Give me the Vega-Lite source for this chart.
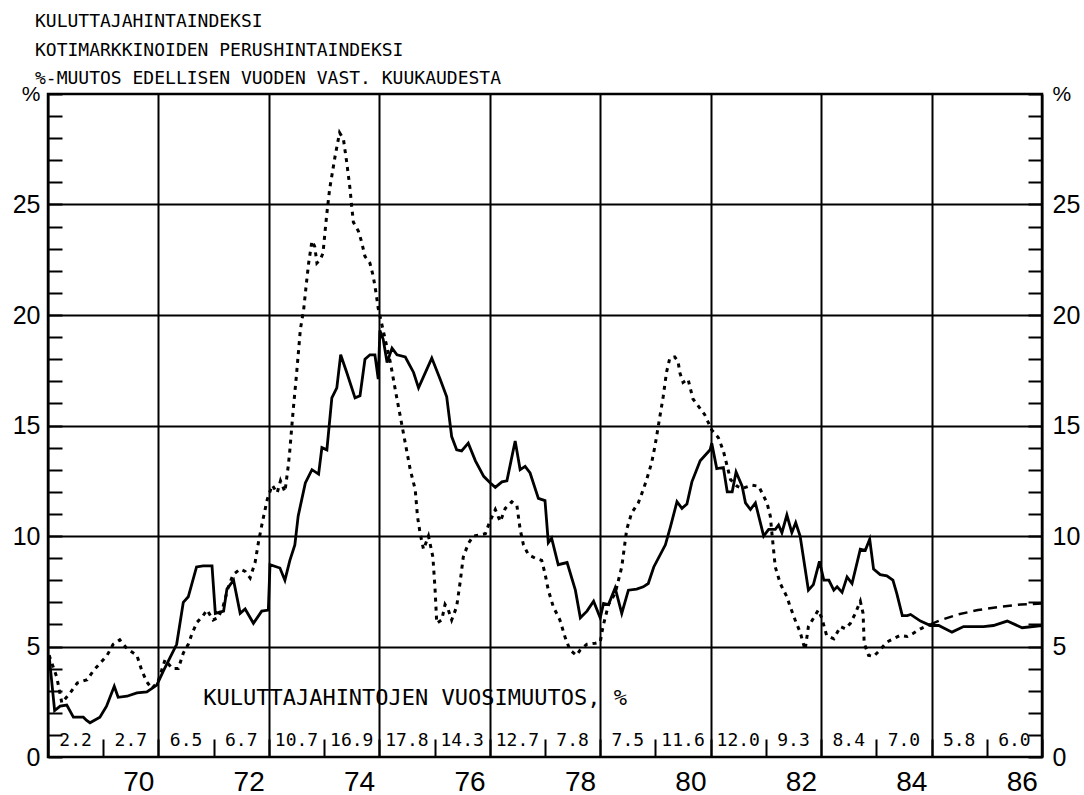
{
  "$schema": "https://vega.github.io/schema/vega-lite/v6.json",
  "width": 994,
  "height": 663,
  "autosize": {"type": "none"},
  "padding": {"left": 48, "top": 94, "right": 42, "bottom": 38},
  "background": "white",
  "config": {
    "view": {"stroke": "black", "strokeWidth": 2.5},
    "axis": {"labelColor": "black", "tickColor": "black", "gridColor": "black", "tickOpacity": 1}
  },
  "title": {
    "text": ["KULUTTAJAHINTAINDEKSI", "KOTIMARKKINOIDEN PERUSHINTAINDEKSI", "%-MUUTOS EDELLISEN VUODEN VAST. KUUKAUDESTA"],
    "anchor": "start",
    "frame": "group",
    "font": "DejaVu Sans Mono",
    "fontSize": 18,
    "fontWeight": "normal",
    "color": "black",
    "lineHeight": 28.5,
    "offset": 6,
    "dx": -13,
    "dy": 11
  },
  "datasets": {
    "cpi": [
      {"year": 1969.02, "value": 4.6}, {"year": 1969.12, "value": 2.1}, {"year": 1969.22, "value": 2.3}, {"year": 1969.34, "value": 2.35},
      {"year": 1969.46, "value": 1.8}, {"year": 1969.64, "value": 1.8}, {"year": 1969.70, "value": 1.65}, {"year": 1969.76, "value": 1.55},
      {"year": 1969.94, "value": 1.8}, {"year": 1970.06, "value": 2.3}, {"year": 1970.20, "value": 3.2}, {"year": 1970.27, "value": 2.7},
      {"year": 1970.43, "value": 2.75}, {"year": 1970.61, "value": 2.9}, {"year": 1970.79, "value": 2.95}, {"year": 1970.97, "value": 3.25},
      {"year": 1971.09, "value": 3.9}, {"year": 1971.21, "value": 4.5}, {"year": 1971.33, "value": 5.1}, {"year": 1971.45, "value": 7.0},
      {"year": 1971.54, "value": 7.25}, {"year": 1971.69, "value": 8.6}, {"year": 1971.81, "value": 8.65}, {"year": 1971.97, "value": 8.65},
      {"year": 1972.03, "value": 6.5}, {"year": 1972.18, "value": 6.6}, {"year": 1972.24, "value": 7.6}, {"year": 1972.36, "value": 8.0},
      {"year": 1972.48, "value": 6.5}, {"year": 1972.57, "value": 6.7}, {"year": 1972.72, "value": 6.05}, {"year": 1972.87, "value": 6.6},
      {"year": 1972.99, "value": 6.65}, {"year": 1973.02, "value": 8.7}, {"year": 1973.20, "value": 8.55}, {"year": 1973.29, "value": 8.0},
      {"year": 1973.38, "value": 8.9}, {"year": 1973.47, "value": 9.6}, {"year": 1973.53, "value": 10.9}, {"year": 1973.66, "value": 12.4},
      {"year": 1973.78, "value": 13.0}, {"year": 1973.90, "value": 12.8}, {"year": 1973.96, "value": 14.0}, {"year": 1974.05, "value": 13.9},
      {"year": 1974.14, "value": 16.25}, {"year": 1974.23, "value": 16.7}, {"year": 1974.30, "value": 18.2}, {"year": 1974.41, "value": 17.4},
      {"year": 1974.56, "value": 16.25}, {"year": 1974.65, "value": 16.35}, {"year": 1974.74, "value": 18.0}, {"year": 1974.83, "value": 18.2},
      {"year": 1974.92, "value": 18.2}, {"year": 1974.98, "value": 17.1}, {"year": 1975.01, "value": 19.3}, {"year": 1975.07, "value": 18.9},
      {"year": 1975.14, "value": 17.85}, {"year": 1975.23, "value": 18.5}, {"year": 1975.32, "value": 18.2}, {"year": 1975.47, "value": 18.1},
      {"year": 1975.62, "value": 17.4}, {"year": 1975.71, "value": 16.7}, {"year": 1975.95, "value": 18.05}, {"year": 1976.10, "value": 17.1},
      {"year": 1976.22, "value": 16.3}, {"year": 1976.31, "value": 14.5}, {"year": 1976.40, "value": 13.9}, {"year": 1976.49, "value": 13.85},
      {"year": 1976.61, "value": 14.2}, {"year": 1976.74, "value": 13.4}, {"year": 1976.89, "value": 12.7}, {"year": 1977.01, "value": 12.4},
      {"year": 1977.10, "value": 12.2}, {"year": 1977.22, "value": 12.45}, {"year": 1977.31, "value": 12.5}, {"year": 1977.46, "value": 14.3},
      {"year": 1977.55, "value": 13.0}, {"year": 1977.64, "value": 13.15}, {"year": 1977.73, "value": 12.85}, {"year": 1977.88, "value": 11.7},
      {"year": 1978.00, "value": 11.6}, {"year": 1978.06, "value": 9.7}, {"year": 1978.12, "value": 9.9}, {"year": 1978.24, "value": 8.7},
      {"year": 1978.40, "value": 8.8}, {"year": 1978.55, "value": 7.55}, {"year": 1978.64, "value": 6.3}, {"year": 1978.76, "value": 6.6},
      {"year": 1978.88, "value": 7.05}, {"year": 1979.00, "value": 6.3}, {"year": 1979.06, "value": 6.95}, {"year": 1979.15, "value": 6.9},
      {"year": 1979.27, "value": 7.65}, {"year": 1979.39, "value": 6.5}, {"year": 1979.51, "value": 7.55}, {"year": 1979.66, "value": 7.6},
      {"year": 1979.78, "value": 7.7}, {"year": 1979.87, "value": 7.85}, {"year": 1979.97, "value": 8.6}, {"year": 1980.18, "value": 9.6},
      {"year": 1980.27, "value": 10.4}, {"year": 1980.39, "value": 11.55}, {"year": 1980.48, "value": 11.25}, {"year": 1980.57, "value": 11.45},
      {"year": 1980.66, "value": 12.45}, {"year": 1980.81, "value": 13.4}, {"year": 1980.99, "value": 13.9}, {"year": 1981.02, "value": 14.2},
      {"year": 1981.11, "value": 13.05}, {"year": 1981.23, "value": 13.1}, {"year": 1981.30, "value": 12.0}, {"year": 1981.39, "value": 12.0},
      {"year": 1981.46, "value": 12.9}, {"year": 1981.57, "value": 12.25}, {"year": 1981.63, "value": 11.5}, {"year": 1981.72, "value": 11.2},
      {"year": 1981.81, "value": 11.5}, {"year": 1981.96, "value": 10.0}, {"year": 1982.05, "value": 10.3}, {"year": 1982.17, "value": 10.3},
      {"year": 1982.23, "value": 10.5}, {"year": 1982.29, "value": 10.15}, {"year": 1982.38, "value": 10.95}, {"year": 1982.47, "value": 10.15},
      {"year": 1982.54, "value": 10.6}, {"year": 1982.62, "value": 10.0}, {"year": 1982.77, "value": 7.55}, {"year": 1982.86, "value": 7.8},
      {"year": 1982.97, "value": 8.85}, {"year": 1983.05, "value": 8.0}, {"year": 1983.14, "value": 8.0}, {"year": 1983.23, "value": 7.55},
      {"year": 1983.29, "value": 7.7}, {"year": 1983.38, "value": 7.45}, {"year": 1983.47, "value": 8.15}, {"year": 1983.56, "value": 7.85},
      {"year": 1983.71, "value": 9.4}, {"year": 1983.80, "value": 9.35}, {"year": 1983.88, "value": 9.85}, {"year": 1983.95, "value": 8.5},
      {"year": 1984.07, "value": 8.25}, {"year": 1984.19, "value": 8.2}, {"year": 1984.30, "value": 8.0}, {"year": 1984.37, "value": 7.4},
      {"year": 1984.47, "value": 6.4}, {"year": 1984.56, "value": 6.4}, {"year": 1984.62, "value": 6.45}, {"year": 1984.80, "value": 6.15},
      {"year": 1984.98, "value": 5.95}, {"year": 1985.13, "value": 5.95}, {"year": 1985.37, "value": 5.65}, {"year": 1985.58, "value": 5.9},
      {"year": 1985.94, "value": 5.9}, {"year": 1986.12, "value": 5.95}, {"year": 1986.37, "value": 6.15}, {"year": 1986.64, "value": 5.85},
      {"year": 1987.00, "value": 5.95}
    ],
    "ppi": [
      {"year": 1969.02, "value": 4.6}, {"year": 1969.16, "value": 3.6}, {"year": 1969.25, "value": 2.45}, {"year": 1969.40, "value": 2.9},
      {"year": 1969.53, "value": 3.35}, {"year": 1969.71, "value": 3.5}, {"year": 1969.82, "value": 3.9}, {"year": 1970.07, "value": 4.6},
      {"year": 1970.18, "value": 5.1}, {"year": 1970.30, "value": 5.3}, {"year": 1970.43, "value": 4.9}, {"year": 1970.61, "value": 4.6},
      {"year": 1970.70, "value": 3.9}, {"year": 1970.79, "value": 3.4}, {"year": 1970.88, "value": 3.1}, {"year": 1970.99, "value": 3.4},
      {"year": 1971.12, "value": 4.4}, {"year": 1971.25, "value": 4.0}, {"year": 1971.36, "value": 4.0}, {"year": 1971.45, "value": 4.7},
      {"year": 1971.54, "value": 5.1}, {"year": 1971.61, "value": 5.6}, {"year": 1971.70, "value": 6.1}, {"year": 1971.81, "value": 6.4},
      {"year": 1971.88, "value": 6.65}, {"year": 1971.99, "value": 6.2}, {"year": 1972.08, "value": 6.3}, {"year": 1972.17, "value": 6.8},
      {"year": 1972.26, "value": 7.65}, {"year": 1972.35, "value": 8.25}, {"year": 1972.48, "value": 8.5}, {"year": 1972.57, "value": 8.4},
      {"year": 1972.66, "value": 8.1}, {"year": 1972.75, "value": 8.8}, {"year": 1972.81, "value": 9.7}, {"year": 1972.88, "value": 10.6},
      {"year": 1972.97, "value": 11.65}, {"year": 1973.06, "value": 12.3}, {"year": 1973.15, "value": 11.95}, {"year": 1973.21, "value": 12.5},
      {"year": 1973.29, "value": 12.0}, {"year": 1973.35, "value": 13.15}, {"year": 1973.38, "value": 13.9}, {"year": 1973.41, "value": 14.8},
      {"year": 1973.44, "value": 15.7}, {"year": 1973.50, "value": 17.3}, {"year": 1973.57, "value": 19.35}, {"year": 1973.63, "value": 20.25},
      {"year": 1973.68, "value": 21.45}, {"year": 1973.72, "value": 22.35}, {"year": 1973.78, "value": 23.35}, {"year": 1973.83, "value": 23.1},
      {"year": 1973.87, "value": 22.35}, {"year": 1973.93, "value": 22.5}, {"year": 1973.98, "value": 22.8}, {"year": 1974.02, "value": 23.85},
      {"year": 1974.05, "value": 24.6}, {"year": 1974.10, "value": 25.7}, {"year": 1974.14, "value": 26.3}, {"year": 1974.20, "value": 27.2},
      {"year": 1974.28, "value": 28.25}, {"year": 1974.35, "value": 27.95}, {"year": 1974.41, "value": 26.9}, {"year": 1974.47, "value": 25.7},
      {"year": 1974.50, "value": 24.9}, {"year": 1974.53, "value": 24.2}, {"year": 1974.62, "value": 23.8}, {"year": 1974.68, "value": 23.3},
      {"year": 1974.74, "value": 22.65}, {"year": 1974.83, "value": 22.35}, {"year": 1974.89, "value": 21.75}, {"year": 1974.94, "value": 21.0},
      {"year": 1974.98, "value": 20.3}, {"year": 1975.20, "value": 17.85}, {"year": 1975.29, "value": 16.6}, {"year": 1975.38, "value": 15.4},
      {"year": 1975.47, "value": 14.2}, {"year": 1975.56, "value": 13.0}, {"year": 1975.65, "value": 12.1}, {"year": 1975.69, "value": 10.9},
      {"year": 1975.74, "value": 10.1}, {"year": 1975.80, "value": 9.4}, {"year": 1975.89, "value": 10.0}, {"year": 1975.97, "value": 9.05},
      {"year": 1976.01, "value": 7.55}, {"year": 1976.04, "value": 6.05}, {"year": 1976.13, "value": 6.2}, {"year": 1976.19, "value": 6.9},
      {"year": 1976.25, "value": 6.65}, {"year": 1976.31, "value": 6.2}, {"year": 1976.40, "value": 6.8}, {"year": 1976.46, "value": 7.85},
      {"year": 1976.52, "value": 9.05}, {"year": 1976.61, "value": 9.65}, {"year": 1976.70, "value": 10.0}, {"year": 1976.83, "value": 10.05},
      {"year": 1976.92, "value": 10.1}, {"year": 1977.00, "value": 10.65}, {"year": 1977.10, "value": 11.2}, {"year": 1977.19, "value": 10.65},
      {"year": 1977.28, "value": 11.25}, {"year": 1977.40, "value": 11.55}, {"year": 1977.49, "value": 11.4}, {"year": 1977.55, "value": 10.3},
      {"year": 1977.61, "value": 9.6}, {"year": 1977.70, "value": 9.15}, {"year": 1977.82, "value": 9.0}, {"year": 1977.94, "value": 8.9},
      {"year": 1978.00, "value": 8.3}, {"year": 1978.06, "value": 7.55}, {"year": 1978.15, "value": 6.8}, {"year": 1978.27, "value": 6.2},
      {"year": 1978.36, "value": 5.45}, {"year": 1978.45, "value": 4.85}, {"year": 1978.57, "value": 4.6}, {"year": 1978.64, "value": 4.85},
      {"year": 1978.76, "value": 5.1}, {"year": 1978.91, "value": 5.15}, {"year": 1979.00, "value": 5.2}, {"year": 1979.05, "value": 5.9},
      {"year": 1979.15, "value": 6.9}, {"year": 1979.27, "value": 7.4}, {"year": 1979.39, "value": 8.6}, {"year": 1979.48, "value": 10.3},
      {"year": 1979.57, "value": 11.05}, {"year": 1979.69, "value": 11.5}, {"year": 1979.78, "value": 12.1}, {"year": 1979.84, "value": 12.55},
      {"year": 1979.93, "value": 13.3}, {"year": 1979.99, "value": 14.05}, {"year": 1980.05, "value": 14.95}, {"year": 1980.14, "value": 16.3},
      {"year": 1980.20, "value": 17.4}, {"year": 1980.26, "value": 18.05}, {"year": 1980.35, "value": 18.1}, {"year": 1980.41, "value": 17.9},
      {"year": 1980.44, "value": 17.4}, {"year": 1980.50, "value": 16.95}, {"year": 1980.59, "value": 17.1}, {"year": 1980.68, "value": 16.2},
      {"year": 1980.77, "value": 15.9}, {"year": 1980.89, "value": 15.5}, {"year": 1981.02, "value": 14.8}, {"year": 1981.14, "value": 14.45},
      {"year": 1981.23, "value": 13.85}, {"year": 1981.30, "value": 13.15}, {"year": 1981.36, "value": 12.55}, {"year": 1981.48, "value": 12.25},
      {"year": 1981.57, "value": 12.15}, {"year": 1981.75, "value": 12.3}, {"year": 1981.87, "value": 12.25}, {"year": 1982.02, "value": 11.5},
      {"year": 1982.08, "value": 10.9}, {"year": 1982.11, "value": 10.1}, {"year": 1982.17, "value": 8.6}, {"year": 1982.26, "value": 7.85},
      {"year": 1982.38, "value": 7.25}, {"year": 1982.44, "value": 6.8}, {"year": 1982.53, "value": 6.2}, {"year": 1982.62, "value": 5.65},
      {"year": 1982.71, "value": 4.85}, {"year": 1982.77, "value": 5.9}, {"year": 1982.95, "value": 6.65}, {"year": 1983.01, "value": 6.3},
      {"year": 1983.10, "value": 5.5}, {"year": 1983.23, "value": 5.35}, {"year": 1983.35, "value": 5.9}, {"year": 1983.44, "value": 5.8},
      {"year": 1983.53, "value": 6.05}, {"year": 1983.62, "value": 6.5}, {"year": 1983.71, "value": 7.05}, {"year": 1983.76, "value": 6.5},
      {"year": 1983.78, "value": 5.15}, {"year": 1983.86, "value": 4.6}, {"year": 1983.95, "value": 4.55}, {"year": 1984.07, "value": 4.85},
      {"year": 1984.19, "value": 5.2}, {"year": 1984.31, "value": 5.35}, {"year": 1984.43, "value": 5.5}, {"year": 1984.56, "value": 5.45},
      {"year": 1984.67, "value": 5.6}, {"year": 1984.80, "value": 5.8}, {"year": 1984.98, "value": 6.0}
    ],
    "ppiForecast": [
      {"year": 1984.98, "value": 6.0}, {"year": 1985.17, "value": 6.2}, {"year": 1985.48, "value": 6.45}, {"year": 1985.84, "value": 6.65},
      {"year": 1986.26, "value": 6.8}, {"year": 1986.62, "value": 6.9}, {"year": 1987.00, "value": 6.95}
    ],
    "annual": [
      {"year": 1969, "pct": 2.2}, {"year": 1970, "pct": 2.7}, {"year": 1971, "pct": 6.5}, {"year": 1972, "pct": 6.7},
      {"year": 1973, "pct": 10.7}, {"year": 1974, "pct": 16.9}, {"year": 1975, "pct": 17.8}, {"year": 1976, "pct": 14.3},
      {"year": 1977, "pct": 12.7}, {"year": 1978, "pct": 7.8}, {"year": 1979, "pct": 7.5}, {"year": 1980, "pct": 11.6},
      {"year": 1981, "pct": 12.0}, {"year": 1982, "pct": 9.3}, {"year": 1983, "pct": 8.4}, {"year": 1984, "pct": 7.0},
      {"year": 1985, "pct": 5.8}, {"year": 1986, "pct": 6.0}
    ],
    "note": [{"label": "KULUTTAJAHINTOJEN VUOSIMUUTOS, %"}]
  },
  "layer": [
    {
      "data": {"name": "cpi"},
      "mark": {"type": "line", "color": "black", "strokeWidth": 2.8},
      "encoding": {
        "x": {
          "field": "year",
          "type": "quantitative",
          "scale": {"domain": [1969, 1987], "nice": false, "zero": false},
          "axis": {
            "title": null,
            "values": [1969, 1970, 1971, 1972, 1973, 1974, 1975, 1976, 1977, 1978, 1979, 1980, 1981, 1982, 1983, 1984, 1985, 1986, 1987],
            "domain": false,
            "ticks": true,
            "tickSize": -18,
            "tickWidth": 2,
            "tickColor": "black",
            "grid": true,
            "gridWidth": 2,
            "gridOpacity": {"condition": {"test": "datum.value % 2 === 1", "value": 1}, "value": 0},
            "labelExpr": "(datum.value % 2 === 0 && datum.value < 1987) ? substring(toString(datum.value), 2) : ''",
            "labelOffset": 35,
            "labelPadding": 29,
            "labelBaseline": "top",
            "labelFont": "Liberation Sans",
            "labelFontSize": 28,
            "labelOverlap": false,
            "labelFlush": false,
            "labelBound": false
          }
        },
        "y": {
          "field": "value",
          "type": "quantitative",
          "scale": {"domain": [0, 30], "nice": false, "zero": true},
          "axis": {
            "orient": "left",
            "title": null,
            "values": [0,1,2,3,4,5,6,7,8,9,10,11,12,13,14,15,16,17,18,19,20,21,22,23,24,25,26,27,28,29,30],
            "domain": false,
            "ticks": true,
            "tickSize": -14,
            "tickWidth": 2,
            "tickColor": "black",
            "grid": true,
            "gridWidth": 2,
            "gridOpacity": {"condition": {"test": "datum.value % 5 === 0 && datum.value > 0 && datum.value < 30", "value": 1}, "value": 0},
            "labelExpr": "datum.value === 30 ? '%' : (datum.value % 5 === 0 ? datum.label : '')",
            "labelPadding": 22,
            "labelFont": "Liberation Sans",
            "labelFontSize": {"condition": {"test": "datum.value === 30", "value": 21}, "value": 25},
            "labelOverlap": false,
            "labelFlush": false,
            "labelBound": false
          }
        }
      }
    },
    {
      "data": {"name": "ppi"},
      "mark": {"type": "line", "color": "black", "strokeWidth": 3, "strokeDash": [4, 5]},
      "encoding": {
        "x": {"field": "year", "type": "quantitative", "scale": {"domain": [1969, 1987], "nice": false, "zero": false}},
        "y": {
          "field": "value",
          "type": "quantitative",
          "scale": {"domain": [0, 30], "nice": false, "zero": true},
          "axis": {
            "orient": "right",
            "title": null,
            "values": [0,1,2,3,4,5,6,7,8,9,10,11,12,13,14,15,16,17,18,19,20,21,22,23,24,25,26,27,28,29,30],
            "domain": false,
            "ticks": true,
            "tickSize": -14,
            "tickWidth": 2,
            "tickColor": "black",
            "grid": false,
            "labelExpr": "datum.value === 30 ? '%' : (datum.value % 5 === 0 ? datum.label : '')",
            "labelPadding": 24,
            "labelFont": "Liberation Sans",
            "labelFontSize": {"condition": {"test": "datum.value === 30", "value": 21}, "value": 25},
            "labelOverlap": false,
            "labelFlush": false,
            "labelBound": false
          }
        }
      }
    },
    {
      "data": {"name": "ppiForecast"},
      "mark": {"type": "line", "color": "black", "strokeWidth": 2.5, "strokeDash": [9, 6]},
      "encoding": {
        "x": {"field": "year", "type": "quantitative", "scale": {"domain": [1969, 1987], "nice": false, "zero": false}},
        "y": {"field": "value", "type": "quantitative", "scale": {"domain": [0, 30], "nice": false, "zero": true}, "axis": null}
      }
    },
    {
      "data": {"name": "annual"},
      "mark": {"type": "text", "color": "black", "font": "DejaVu Sans Mono", "fontSize": 18, "dx": 27.6, "baseline": "middle", "align": "center"},
      "encoding": {
        "x": {"field": "year", "type": "quantitative", "scale": {"domain": [1969, 1987], "nice": false, "zero": false}},
        "y": {"datum": 0.72, "type": "quantitative", "scale": {"domain": [0, 30], "nice": false, "zero": true}, "axis": null},
        "text": {"field": "pct", "type": "quantitative", "format": ".1f"}
      }
    },
    {
      "data": {"name": "note"},
      "mark": {"type": "text", "color": "black", "font": "DejaVu Sans Mono", "fontSize": 22, "align": "left", "baseline": "alphabetic"},
      "encoding": {
        "x": {"datum": 1971.81, "type": "quantitative", "scale": {"domain": [1969, 1987], "nice": false, "zero": false}},
        "y": {"datum": 2.36, "type": "quantitative", "scale": {"domain": [0, 30], "nice": false, "zero": true}, "axis": null},
        "text": {"field": "label", "type": "nominal"}
      }
    }
  ],
  "resolve": {"axis": {"y": "independent"}}
}
